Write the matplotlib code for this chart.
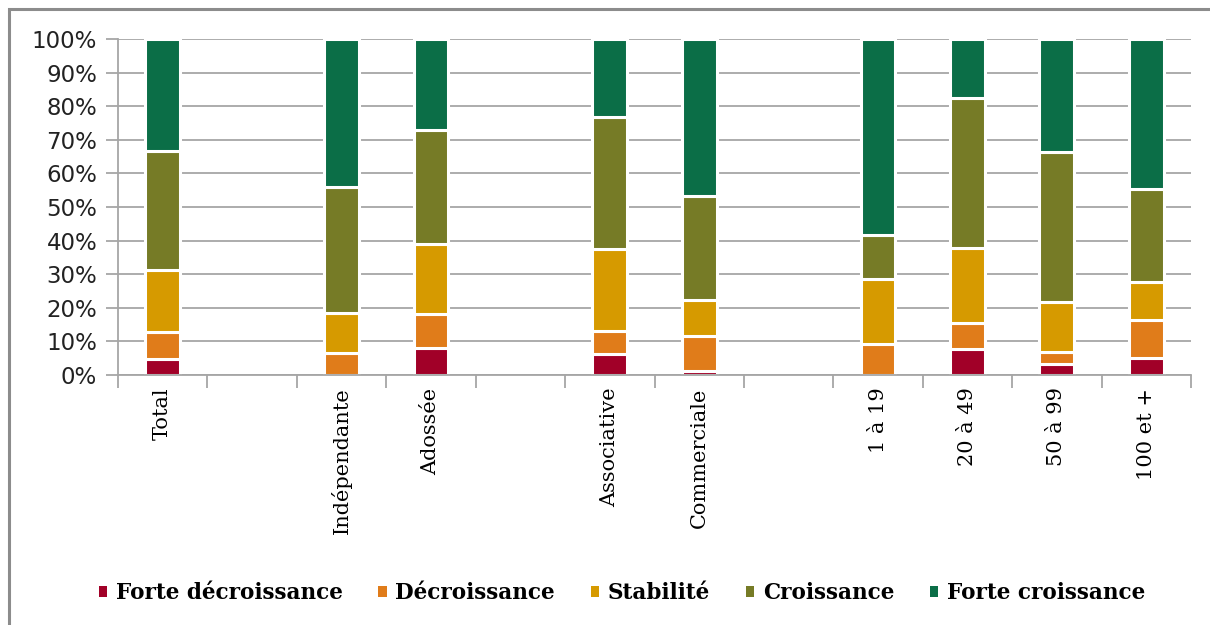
import numpy as np
import matplotlib
matplotlib.use('Agg')
import matplotlib.pyplot as plt
from matplotlib.patches import Patch, Rectangle
from matplotlib.ticker import PercentFormatter

# categories (empty strings are the spacer slots)
categories = ['Total', '', 'Indépendante', 'Adossée', '', 'Associative',
              'Commerciale', '', '1 à 19', '20 à 49', '50 à 99', '100 et +']

series = ['Forte décroissance', 'Décroissance', 'Stabilité', 'Croissance', 'Forte croissance']
colors = ['#A10028', '#E07C1A', '#D69A00', '#767B26', '#0B6E47']

# values in % (nan = empty slot)
forte_decroissance = [4.7, np.nan, 0.0, 8.0, np.nan, 6.2, 1.3, np.nan, 0.0, 7.7, 3.2, 5.1]
decroissance = [8.0, np.nan, 6.5, 10.1, np.nan, 6.8, 10.2, np.nan, 9.2, 7.7, 3.7, 11.4]
stabilite = [18.6, np.nan, 11.9, 20.9, np.nan, 24.4, 10.7, np.nan, 19.5, 22.4, 14.9, 11.1]
croissance = [35.5, np.nan, 37.5, 33.9, np.nan, 39.4, 31.0, np.nan, 13.0, 44.7, 44.7, 27.8]
forte_croissance = [33.2, np.nan, 44.1, 27.1, np.nan, 23.2, 46.8, np.nan, 58.3, 17.5, 33.5, 44.6]

data = [forte_decroissance, decroissance, stabilite, croissance, forte_croissance]

fig = plt.figure(figsize=(12.1, 6.25), dpi=100)
ax = fig.add_axes([118 / 1210, 250 / 625, (1191 - 118) / 1210, (375 - 39) / 625])

x = np.arange(len(categories))
bottom = np.zeros(len(categories))
for vals, col in zip(data, colors):
    v = np.nan_to_num(np.array(vals, dtype=float))
    keep = v > 0  # skip empty slots and zero segments
    ax.bar(x[keep], v[keep], bottom=bottom[keep], width=0.39, color=col,
           edgecolor='white', linewidth=2.2, zorder=3)
    bottom += v

ax.set_xlim(-0.5, len(categories) - 0.5)
ax.set_ylim(0, 100)
ax.set_yticks(np.arange(0, 101, 10))
ax.yaxis.set_major_formatter(PercentFormatter(decimals=0))
ax.grid(axis='y', color='#A6A6A6', linewidth=1.3, zorder=0)

ax.set_xticks(x)
ax.set_xticklabels(categories, rotation=90, family='DejaVu Serif', fontsize=15)
ax.set_xticks(np.arange(-0.5, len(categories)), minor=True)
ax.tick_params(axis='x', which='major', length=0, pad=9)
ax.tick_params(axis='x', which='minor', length=9, width=1.3, color='#A6A6A6')
ax.tick_params(axis='y', length=9, width=1.3, color='#A6A6A6', labelsize=16.5,
               pad=6, labelcolor='#222222')

for s in ['top', 'right']:
    ax.spines[s].set_visible(False)
for s in ['left', 'bottom']:
    ax.spines[s].set_color('#A6A6A6')
    ax.spines[s].set_linewidth(1.3)
    ax.spines[s].set_zorder(5)

handles = [Patch(facecolor=c, edgecolor='none') for c in colors]
fig.legend(handles, series, loc='center', bbox_to_anchor=(0.514, 0.051), ncol=5,
           frameon=False, handlelength=0.4, handleheight=0.4, handletextpad=0.4,
           columnspacing=1.65,
           prop={'family': 'DejaVu Serif', 'weight': 'bold', 'size': 15.5})

# outer frame of the chart area
fig.patches.append(Rectangle((9 / 1210, -0.1), 1.2, (616 / 625) + 0.1,
                             transform=fig.transFigure, fill=False,
                             edgecolor='#8C8C8C', linewidth=2.2))

fig.savefig('out.png', dpi=100)
